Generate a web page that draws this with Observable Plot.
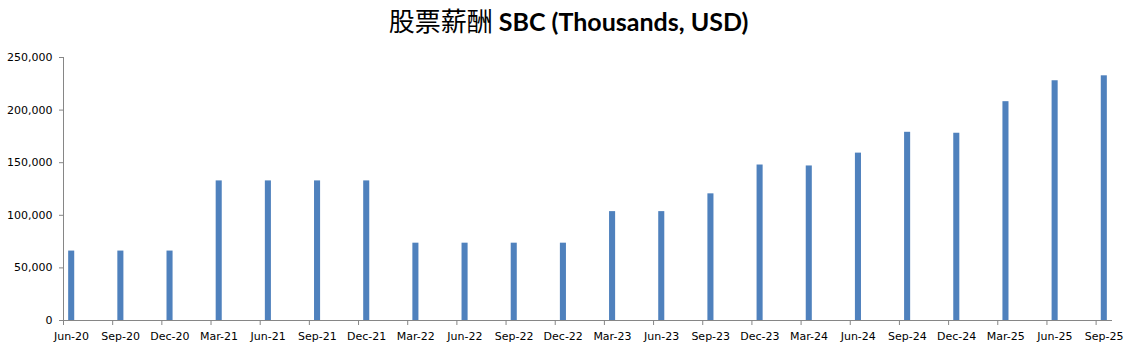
<!DOCTYPE html>
<html>
<head>
<meta charset="utf-8">
<script src="https://cdn.jsdelivr.net/npm/d3@7"></script>
<script src="https://cdn.jsdelivr.net/npm/@observablehq/plot@0.6"></script>
<style>
  body { margin: 0; background: #fff; }
  #title { height: 40px; line-height: 40px; text-align: center; white-space: nowrap; color: #000; }
  #title .zh { font-family: "Noto Sans CJK SC", sans-serif; font-weight: 400; font-size: 26px; }
  #title .en { font-family: Lato, "Open Sans", sans-serif; font-weight: 700; font-size: 25px; }
</style>
</head>
<body>
<div id="title"><span class="zh">股票薪酬</span><span class="en"> SBC (Thousands, USD)</span></div>
<div id="chart"></div>
<script>
const quarters = ["Jun-20","Sep-20","Dec-20","Mar-21","Jun-21","Sep-21","Dec-21","Mar-22","Jun-22","Sep-22","Dec-22","Mar-23","Jun-23","Sep-23","Dec-23","Mar-24","Jun-24","Sep-24","Dec-24","Mar-25","Jun-25","Sep-25"];
const sbc = [66000,66000,66000,132700,132700,132700,132700,73500,73500,73500,73500,103500,103500,120400,147800,146900,159100,178900,178000,208000,227900,232600];
const yTicks = [0,50000,100000,150000,200000,250000];

// month-based date axis: each quarter is 3 months apart
const data = quarters.map((q, i) => ({q, m: i * 3, v: sbc[i]}));
const monthTicks = data.map(d => d.m);
const lastMonth = monthTicks[monthTicks.length - 1] + 1;
const halfBar = 0.185;
const font = "DejaVu Sans, sans-serif";

const chart = Plot.plot({
  width: 1137,
  height: 315,
  marginTop: 17,
  marginBottom: 35,
  marginLeft: 63,
  marginRight: 25,
  style: {fontFamily: font, fontSize: "11px", color: "#000", background: "#fff"},
  x: {type: "linear", domain: [0, lastMonth]},
  y: {domain: [0, 250000]},
  marks: [
    Plot.rectY(data, {x1: d => d.m + 0.5 - halfBar, x2: d => d.m + 0.5 + halfBar, y1: 0, y2: "v", fill: "#4f81bd"}),
    Plot.ruleX([0], {y1: 0, y2: 250000, stroke: "#868686"}),
    Plot.ruleY([0], {x1: 0, x2: lastMonth, stroke: "#868686"}),
    Plot.axisY({ticks: yTicks, tickFormat: d3.format(","), tickSize: 4, tickPadding: 7, stroke: "#868686", label: null, fontSize: 11}),
    Plot.axisX({ticks: monthTicks, tickFormat: () => "", tickSize: 5, stroke: "#868686", label: null}),
    Plot.axisX({ticks: monthTicks, tickFormat: m => quarters[m / 3], tickSize: 0, tickPadding: 12, dx: 8, label: null, fontSize: 11})
  ]
});
document.getElementById("chart").appendChild(chart);
</script>
</body>
</html>
